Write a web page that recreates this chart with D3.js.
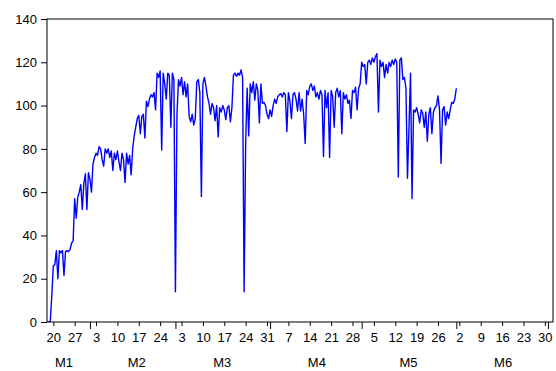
<!DOCTYPE html>
<html>
<head>
<meta charset="utf-8">
<script src="https://cdn.jsdelivr.net/npm/d3@7"></script>
<style>
  body { margin: 0; background: #fff; }
  svg { display: block; font-family: "Liberation Sans", Arial, sans-serif; }
</style>
</head>
<body>
<svg id="chart" width="556" height="371"></svg>
<script>
// series sampled every 12 hours, starting 18 Jan
const startDate = new Date(2014, 0, 18, 0, 0);
const stepHours = 12;
const values = [
  0, 0, 0, 12, 26, 26.5, 33, 20, 33, 32,
  33, 21.5, 32.5, 33, 32.5, 33.5, 36.5, 37.5, 57, 48,
  57.5, 60, 63.5, 52, 64, 68.5, 52, 69, 66, 60,
  73, 76, 78, 77, 81, 80, 75, 72, 80, 78,
  80, 76, 79, 70, 78, 75, 79, 74, 70, 78,
  75, 64.5, 78, 73, 77, 68, 80, 86, 90, 94,
  95.5, 87, 95, 96, 85, 102, 99.5, 103, 105, 104,
  106, 98, 115, 113, 116, 79.5, 115, 110, 103, 115,
  114, 90, 115, 112, 14, 95.5, 112, 109, 113, 105,
  111, 104, 110, 95, 92.5, 96, 91, 94, 111, 112,
  106, 58, 110, 113, 109, 104, 101, 96, 101, 99,
  93, 100, 85.5, 99, 97, 100, 98, 93.5, 99, 100,
  92.5, 99, 114, 115, 113.5, 115, 114, 116.5, 113, 14,
  82.5, 108, 86, 110, 106, 111, 102.5, 110, 107, 92,
  110, 101, 101.5, 100, 96, 94, 98, 95, 100, 103,
  101, 104, 105, 105.5, 104, 106, 105, 88, 106, 102,
  94, 105, 106, 103, 97.5, 106, 97.5, 103, 96, 82.5,
  107, 105, 109, 110, 107, 109, 104, 106, 103, 107,
  105, 76.5, 107, 99, 106, 76, 107, 104, 90, 106,
  108, 104, 107, 87, 106, 103, 105, 101, 102.5, 94,
  107, 106, 108.5, 98, 108, 110, 120, 118, 119, 110,
  120, 121, 119, 122, 120, 122.5, 124, 97, 121, 118,
  120, 113, 119, 115, 120, 118, 121, 119, 121.5, 120,
  67, 121, 122, 112, 113, 108, 66.4, 90, 115, 57,
  98, 97, 99, 96, 92, 98, 96.5, 90, 97, 83.5,
  96, 99, 87, 97, 99, 100, 104.5, 98, 73.3, 98,
  99.5, 91, 97, 94, 98, 101.5, 101, 103, 108
];
const yTicks = [0, 20, 40, 60, 80, 100, 120, 140];
const monthLabels = ["M1", "M2", "M3", "M4", "M5", "M6"];

const plot = { left: 47, right: 553, top: 19, bottom: 322 };
const fontSize = 13;

const svg = d3.select("#chart");

const x = d3.scaleTime()
  .domain([new Date(2014, 0, 17, 22, 30), new Date(2014, 6, 2, 16, 0)])
  .range([plot.left, plot.right]);
const y = d3.scaleLinear().domain([0, 140]).range([plot.bottom, plot.top]);

const data = values.map((v, i) => ({
  date: d3.timeHour.offset(startDate, i * stepHours),
  value: v,
}));

svg.append("clipPath").attr("id", "plot-clip")
  .append("rect")
  .attr("x", plot.left).attr("y", plot.top)
  .attr("width", plot.right - plot.left)
  .attr("height", plot.bottom - plot.top);

// line
svg.append("path")
  .datum(data)
  .attr("clip-path", "url(#plot-clip)")
  .attr("fill", "none")
  .attr("stroke", "#0000ff")
  .attr("stroke-width", 1.4)
  .attr("stroke-linejoin", "round")
  .attr("d", d3.line().x((d) => x(d.date)).y((d) => y(d.value)));

// frame
svg.append("rect")
  .attr("x", plot.left).attr("y", plot.top)
  .attr("width", plot.right - plot.left)
  .attr("height", plot.bottom - plot.top)
  .attr("fill", "none")
  .attr("stroke", "#000")
  .attr("stroke-width", 1);

// y axis
const yAxis = svg.append("g")
  .attr("transform", `translate(${plot.left},0)`)
  .call(d3.axisLeft(y).tickValues(yTicks).tickSize(6).tickPadding(4));
yAxis.select(".domain").remove();

// x axis: weekly ticks with day numbers, longer ticks at month starts
const domain = x.domain();
const weeks = d3.timeMonday.range(domain[0], domain[1]);
const monthStarts = d3.timeMonth.range(domain[0], domain[1]);

const xAxis = svg.append("g")
  .attr("transform", `translate(0,${plot.bottom})`)
  .call(d3.axisBottom(x).tickValues(weeks).tickFormat(d3.timeFormat("%-d"))
    .tickSize(4).tickPadding(6.5));
xAxis.select(".domain").remove();

const xAxisMonths = svg.append("g")
  .attr("transform", `translate(0,${plot.bottom})`)
  .call(d3.axisBottom(x).tickValues(monthStarts).tickFormat("").tickSize(7));
xAxisMonths.select(".domain").remove();

svg.selectAll(".tick line").attr("stroke", "#000");
svg.selectAll(".tick text")
  .attr("fill", "#000")
  .attr("font-size", fontSize)
  .attr("font-family", '"Liberation Sans", Arial, sans-serif');

// month labels, centred mid-month (or over the visible weeks for a cut month)
const months = d3.timeMonth.range(d3.timeMonth.floor(domain[0]), domain[1]).slice(0, monthLabels.length);
const monthAnchor = (m) => {
  const mid = new Date(m.getFullYear(), m.getMonth(), 16, 8);
  if (mid >= domain[0]) return x(mid);
  const wk = weeks.filter((w) => w.getMonth() === m.getMonth() && w.getFullYear() === m.getFullYear());
  return (x(wk[0]) + x(wk[wk.length - 1])) / 2;
};

svg.append("g")
  .selectAll("text")
  .data(months)
  .join("text")
  .attr("x", (d) => monthAnchor(d))
  .attr("y", 367)
  .attr("text-anchor", "middle")
  .attr("font-size", fontSize)
  .attr("fill", "#000")
  .text((d, i) => monthLabels[i]);
</script>
</body>
</html>
